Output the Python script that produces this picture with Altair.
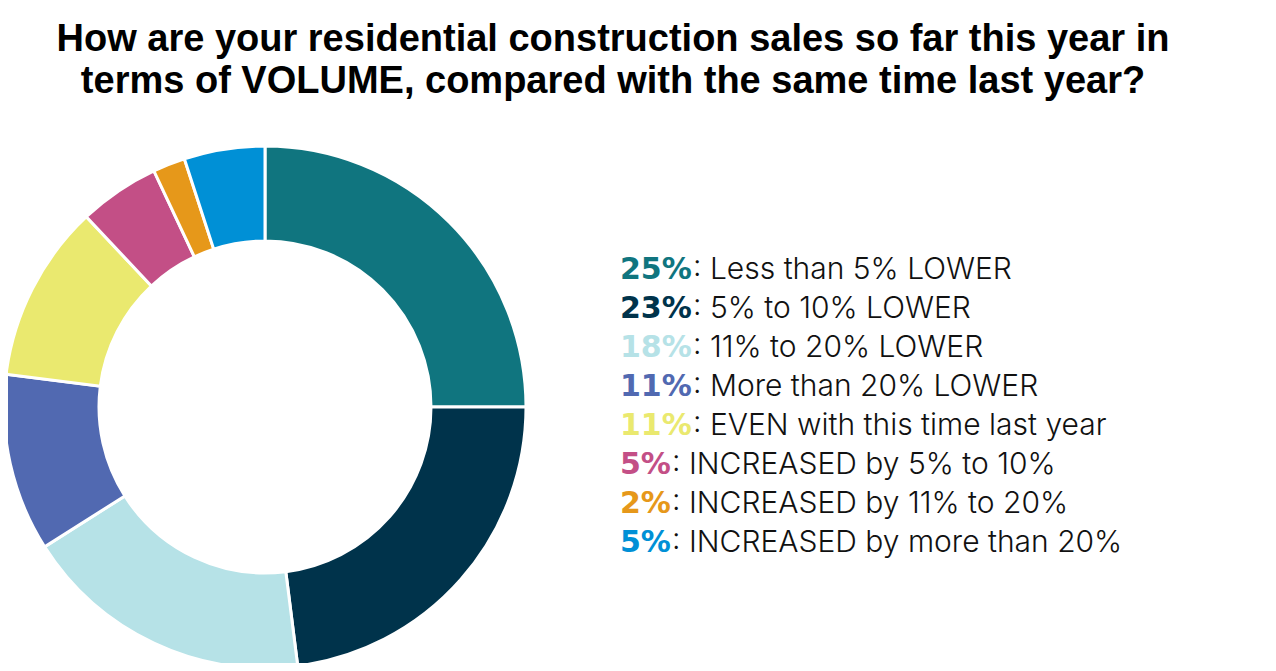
import altair as alt
import pandas as pd

title_lines = [
    "How are your residential construction sales so far this year in",
    "terms of VOLUME, compared with the same time last year?",
]

categories = [
    "Less than 5% LOWER",
    "5% to 10% LOWER",
    "11% to 20% LOWER",
    "More than 20% LOWER",
    "EVEN with this time last year",
    "INCREASED by 5% to 10%",
    "INCREASED by 11% to 20%",
    "INCREASED by more than 20%",
]
values = [25, 23, 18, 11, 11, 5, 2, 5]
colors = ["#10757F", "#00334B", "#B6E2E7", "#5169B1", "#EAE96F", "#C34F86", "#E6981A", "#0090D6"]

df = pd.DataFrame({
    "idx": list(range(len(categories))),
    "category": categories,
    "value": values,
    "pct": [f"{v}%" for v in values],
    "label": [": " + c for c in categories],
})
title_df = pd.DataFrame({"line": list(range(len(title_lines))), "text": title_lines})

color_scale = alt.Scale(domain=categories, range=colors)
base = alt.Chart(df)

donut = base.mark_arc(outerRadius=261, innerRadius=166, stroke="white", strokeWidth=3).encode(
    theta=alt.Theta("value:Q", stack=True),
    order=alt.Order("idx:Q"),
    color=alt.Color("category:N", scale=color_scale, legend=None),
    x=alt.value(257),
    y=alt.value(399),
)

ypos = alt.Y("idx:O", axis=None, scale=alt.Scale(range=[271, 544], padding=0))

pct_text = base.mark_text(
    align="left", baseline="alphabetic", font="DejaVu Sans", fontWeight="bold", fontSize=30
).encode(
    x=alt.value(612),
    y=ypos,
    text="pct:N",
    color=alt.Color("category:N", scale=color_scale, legend=None),
)

label_text = base.transform_calculate(
    lx="622 + 21 * length(datum.pct)"
).mark_text(
    align="left", baseline="alphabetic", font="Inter", fontWeight=300, fontSize=30, color="#111111"
).encode(
    x=alt.X("lx:Q", scale=None, axis=None),
    y=ypos,
    text="label:N",
)

title = alt.Chart(title_df).mark_text(
    align="center", baseline="alphabetic", font="Liberation Sans", fontWeight="bold", fontSize=38, color="#000000"
).encode(
    x=alt.value(605),
    y=alt.Y("line:O", axis=None, scale=alt.Scale(range=[43, 85], padding=0)),
    text="text:N",
)

chart = alt.layer(donut, pct_text, label_text, title).properties(
    width=1260, height=655, autosize=alt.AutoSizeParams(type="none"), padding=0
).configure_view(stroke=None).resolve_scale(x="independent", y="independent")

chart.save("out.html", embed_options={"renderer": "svg", "actions": False})
